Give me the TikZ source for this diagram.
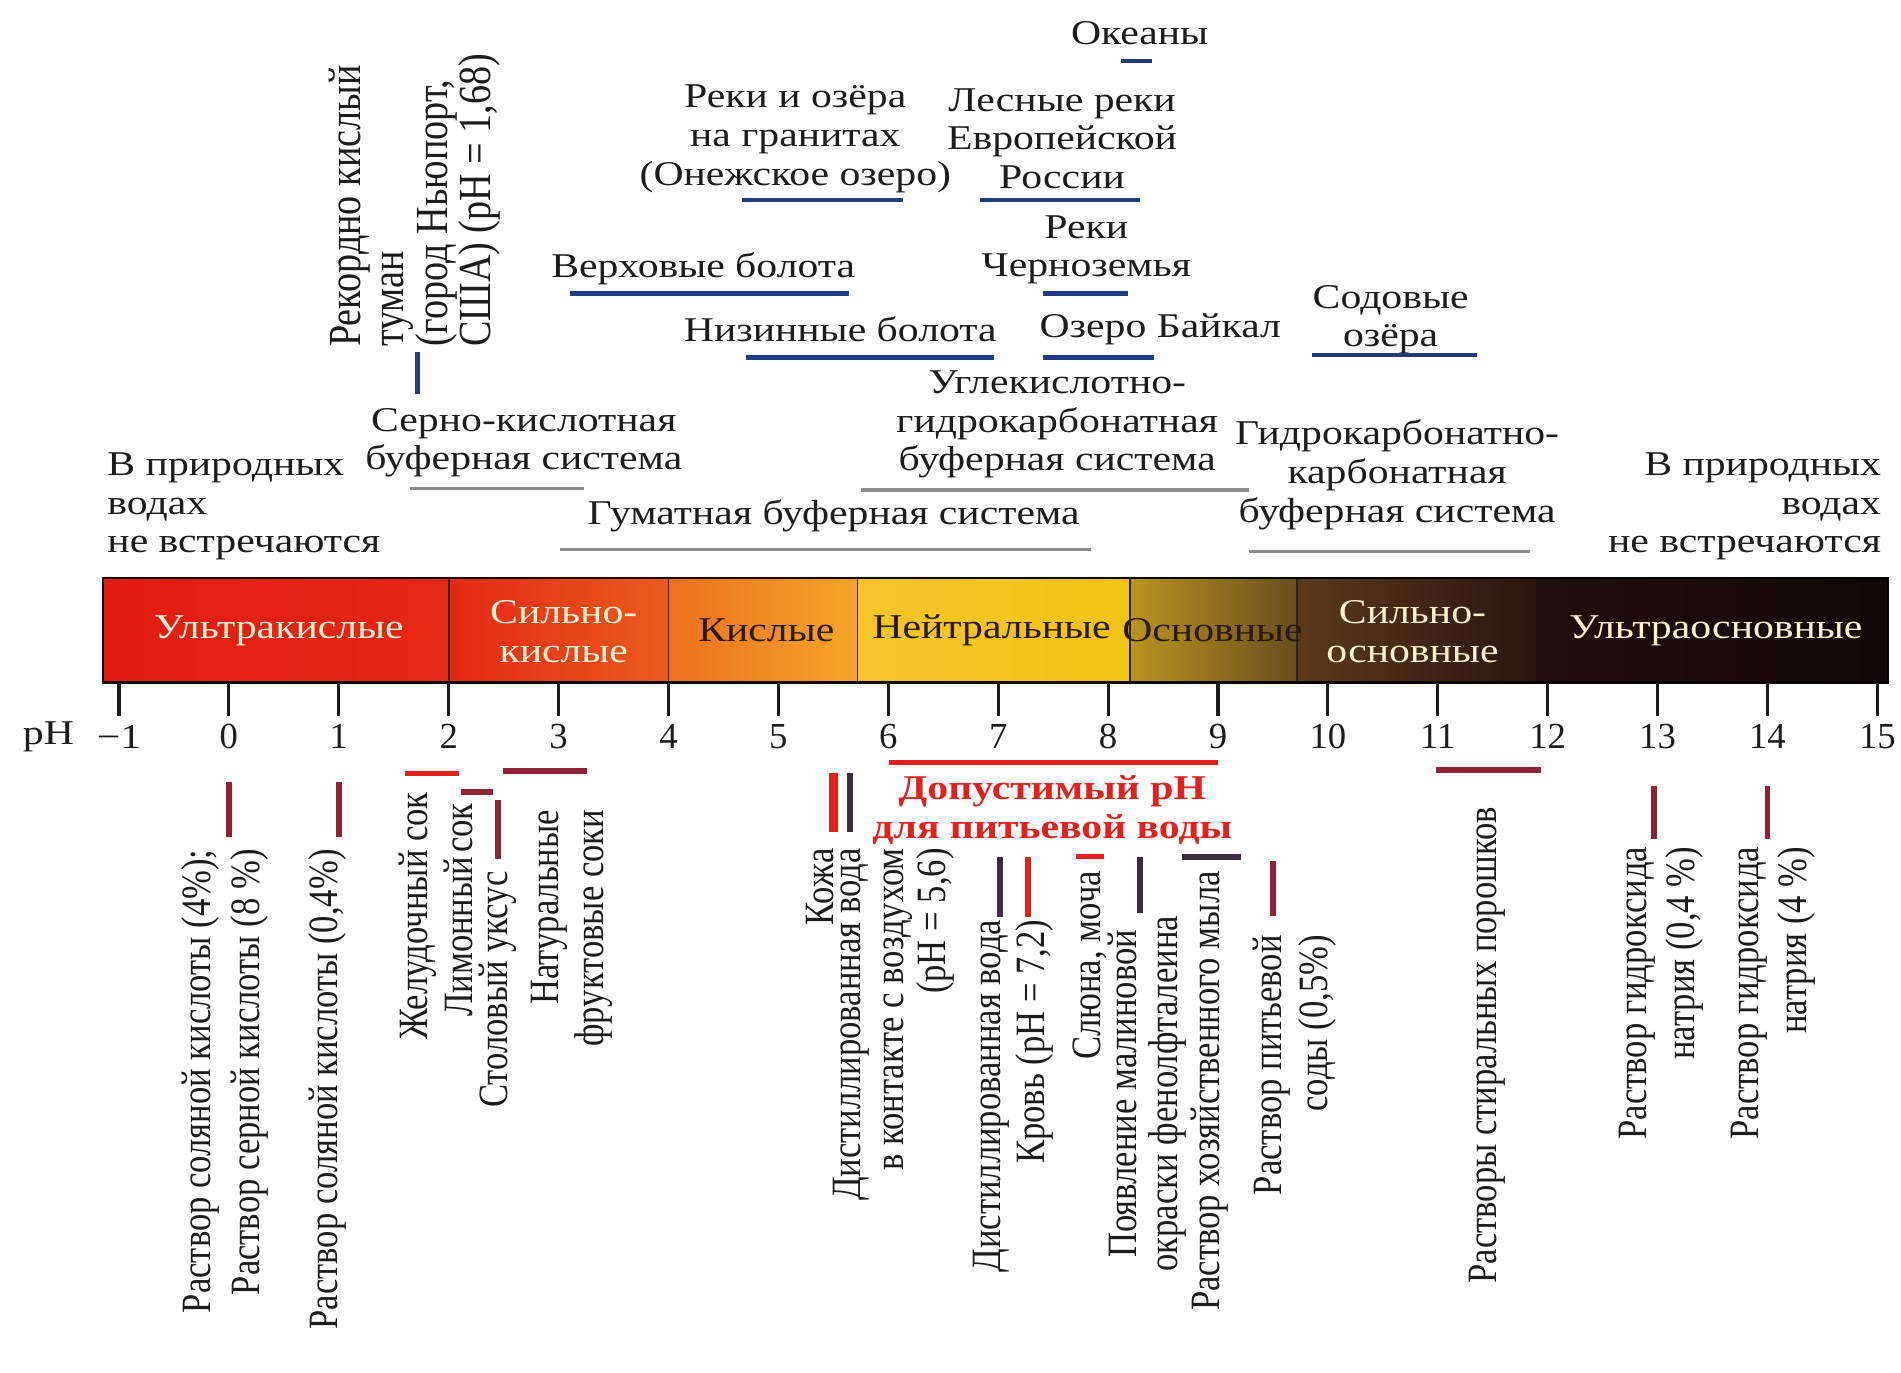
\documentclass[tikz,border=0pt]{standalone}
\usepackage{fontspec}
\setmainfont{Liberation Serif}
\newfontfamily\hfont[FakeStretch=1.2]{Liberation Serif}
\newfontfamily\vfont[FakeStretch=0.83]{Liberation Serif}

\definecolor{txt}{HTML}{1C1C1C}
\definecolor{inkblue}{HTML}{1F3C7E}
\definecolor{bufgray}{HTML}{8C8C8C}
\definecolor{markred}{HTML}{E3211C}
\definecolor{markmaroon}{HTML}{8E2236}
\definecolor{markdark}{HTML}{3B2C3E}
\definecolor{zonelight}{HTML}{FFF3D2}
\definecolor{zonedark}{HTML}{2A1A0A}

\begin{document}
\begin{tikzpicture}[
    htext/.style={font=\hfont\fontsize{9}{10}\selectfont, text=txt, inner sep=0pt, align=center},
    vtext/.style={font=\vfont\fontsize{10.8}{12.5}\selectfont, text=txt, inner sep=0pt, rotate=90, anchor=east, align=right},
    zone/.style={font=\hfont\fontsize{9}{10}\selectfont, inner sep=0pt, align=center},
    waterline/.style={draw=inkblue, line width=1.1pt},
    bufline/.style={draw=bufgray, line width=0.9pt},
    redmark/.style={draw=markred, line width=1.5pt},
    darkmark/.style={draw=markmaroon, line width=1.5pt},
    navymark/.style={draw=markdark, line width=1.5pt}]

    \useasboundingbox (-2.083,0) rectangle (15.215,12.493);

    \shade[left color={rgb,255:red,227;green,27;blue,18}, right color={rgb,255:red,229;green,40;blue,20}] (-1.145,6.282) rectangle (2,7.231);
    \shade[left color={rgb,255:red,227;green,40;blue,22}, right color={rgb,255:red,234;green,92;blue,30}] (2,6.282) rectangle (4,7.231);
    \shade[left color={rgb,255:red,236;green,112;blue,32}, right color={rgb,255:red,246;green,166;blue,40}] (4,6.282) rectangle (5.72,7.231);
    \shade[left color={rgb,255:red,248;green,196;blue,44}, middle color={rgb,255:red,255;green,240;blue,26}, right color={rgb,255:red,240;green,196;blue,20}] (5.72,6.282) rectangle (8.2,7.231);
    \shade[left color={rgb,255:red,186;green,148;blue,32}, right color={rgb,255:red,104;green,78;blue,30}] (8.2,6.282) rectangle (9.72,7.231);
    \shade[left color={rgb,255:red,90;green,58;blue,28}, right color={rgb,255:red,44;green,20;blue,14}] (9.72,6.282) rectangle (11.9,7.231);
    \shade[left color={rgb,255:red,32;green,14;blue,12}, right color={rgb,255:red,18;green,8;blue,8}] (11.9,6.282) rectangle (15.094,7.231);
    \draw[black!85, line width=0.5pt] (2,6.282) -- (2,7.231);
    \draw[black!85, line width=0.5pt] (4,6.282) -- (4,7.231);
    \draw[black!85, line width=0.5pt] (5.72,6.282) -- (5.72,7.231);
    \draw[black!85, line width=0.5pt] (8.2,6.282) -- (8.2,7.231);
    \draw[black!85, line width=0.5pt] (9.72,6.282) -- (9.72,7.231);
    \draw[black, line width=0.6pt] (-1.145,6.282) rectangle (15.094,7.231);

    \node[zone, text=zonelight] (ultraacid) at (0.455,6.757) {Ультракислые};
    \node[zone, text=zonelight] (strongacid) at (3.047,6.745) {Сильно-\\кислые};
    \node[zone, text=zonedark] (acid) at (4.89,6.757) {Кислые};
    \node[zone, text=zonedark] (neutral) at (6.94,6.757) {Нейтральные};
    \node[zone, text=zonedark] (basic) at (8.95,6.757) {Основные};
    \node[zone, text=zonelight] (strongbasic) at (10.77,6.745) {Сильно-\\основные};
    \node[zone, text=zonelight] (ultrabasic) at (13.53,6.757) {Ультраосновные};

    \foreach \p in {-1,...,15}
        \draw[txt, line width=0.8pt] (\p,6.282) -- (\p,5.98);
    \node[htext] (phlabel) at (-1.642,5.79) {pH};
    \node[htext] (phm1) at (-1,5.79) {−1};
    \foreach \p in {0,...,15}
        \node[htext, font=\fontsize{9.5}{10}\selectfont] (ph\p) at (\p,5.79) {\p};

    \node[htext] (oceans) at (8.287,12.19) {Океаны};
    \node[htext] (granite) at (5.154,11.23) {Реки и озёра\\на гранитах\\(Онежское озеро)};
    \node[htext] (forest) at (7.581,11.23) {Лесные реки\\Европейской\\России};
    \node[htext] (highbog) at (4.316,10.05) {Верховые болота};
    \node[htext] (chernozem) at (7.802,10.22) {Реки\\Черноземья};
    \node[htext] (lowbog) at (5.563,9.50) {Низинные болота};
    \node[htext] (baikal) at (8.475,9.50) {Озеро Байкал};
    \node[htext] (soda) at (10.571,9.585) {Содовые\\озёра};
    \draw[waterline] (8.12,11.941) -- (8.40,11.941);
    \draw[waterline] (4.669,10.673) -- (6.136,10.673);
    \draw[waterline] (6.831,10.673) -- (8.287,10.673);
    \draw[waterline] (3.10,9.823) -- (5.64,9.823);
    \draw[waterline] (7.405,9.823) -- (8.177,9.823);
    \draw[waterline] (4.702,9.239) -- (6.963,9.239);
    \draw[waterline] (7.405,9.239) -- (8.42,9.239);
    \draw[waterline] (9.854,9.261) -- (11.354,9.261);

    \node[vtext, anchor=north west, align=left, font=\vfont\fontsize{11.9}{11.2}\selectfont] (fog) at (0.905,9.33) {Рекордно кислый\\туман\\(город Ньюпорт,\\США) (pH = 1,68)};
    \draw[inkblue, line width=1.3pt] (1.72,9.294) -- (1.72,8.908);

    \node[htext] (sulfur) at (2.683,8.465) {Серно-кислотная\\буферная система};
    \node[htext] (carbonic) at (7.537,8.63) {Углекислотно-\\гидрокарбонатная\\буферная система};
    \node[htext] (humate) at (5.502,7.797) {Гуматная буферная система};
    \node[htext] (bicarb) at (10.63,8.172) {Гидрокарбонатно-\\карбонатная\\буферная система};
    \node[htext, anchor=west, align=left] (noneleft) at (-1.112,7.885) {В природных\\водах\\не встречаются};
    \node[htext, anchor=east, align=right] (noneright) at (15.04,7.885) {В природных\\водах\\не встречаются};
    \draw[bufline] (1.646,8.047) -- (3.235,8.047);
    \draw[bufline] (5.750,8.036) -- (9.280,8.036);
    \draw[bufline] (3.014,7.495) -- (7.846,7.495);
    \draw[bufline] (9.28,7.474) -- (11.84,7.474);

    \draw[darkmark] (0,5.378) -- (0,4.881);
    \draw[darkmark] (1,5.378) -- (1,4.881);
    \draw[redmark] (1.60,5.455) -- (2.09,5.455);
    \draw[darkmark] (2.11,5.289) -- (2.40,5.289);
    \draw[darkmark] (2.45,5.21) -- (2.45,4.68);
    \draw[darkmark] (2.49,5.477) -- (3.26,5.477);
    \draw[redmark, line width=2.4pt] (5.5,5.455) -- (5.5,4.925);
    \draw[navymark] (5.65,5.455) -- (5.65,4.925);
    \draw[redmark] (6.01,5.554) -- (9.0,5.554);
    \draw[navymark] (7.02,4.693) -- (7.02,4.153);
    \draw[redmark] (7.27,4.693) -- (7.27,4.153);
    \draw[redmark] (7.71,4.70) -- (7.96,4.70);
    \draw[navymark] (8.29,4.693) -- (8.29,4.186);
    \draw[navymark] (8.67,4.693) -- (9.21,4.693);
    \draw[darkmark] (9.50,4.66) -- (9.50,4.16);
    \draw[darkmark] (10.98,5.488) -- (11.94,5.488);
    \draw[darkmark] (12.97,5.344) -- (12.97,4.859);
    \draw[darkmark] (14.0,5.344) -- (14.0,4.859);

    \node[vtext, font=\vfont\fontsize{10.8}{12.9}\selectfont] (hcl4) at (-0.036,4.771) {Раствор соляной кислоты (4\%);\\Раствор серной кислоты (8 \%)};
    \node[vtext] (hcl04) at (0.896,4.771) {Раствор соляной кислоты (0,4\%)};
    \node[vtext] (gastric) at (1.72,5.29) {Желудочный сок};
    \node[vtext] (lemon) at (2.09,5.19) {Лимонный\hspace{1pt}сок};
    \node[vtext] (vinegar) at (2.45,4.57) {Столовый уксус};
    \node[vtext, font=\vfont\fontsize{10.8}{11.5}\selectfont] (juice) at (3.12,5.13) {Натуральные\\фруктовые соки};
    \node[vtext] (skin) at (5.38,4.78) {Кожа};
    \node[vtext, font=\vfont\fontsize{10.8}{11}\selectfont] (distair) at (6.053,4.78) {Дистиллированная вода\\в контакте с воздухом\\(pH = 5,6)};
    \node[htext, text=markred, font=\hfont\bfseries\fontsize{9}{10}\selectfont] (drinking) at (7.493,5.12) {Допустимый pH\\для питьевой воды};
    \node[vtext] (distwater) at (6.94,4.13) {Дистиллированная вода};
    \node[vtext] (blood) at (7.327,4.13) {Кровь (pH = 7,2)};
    \node[vtext] (saliva) at (7.836,4.572) {Слюна, моча};
    \node[vtext, align=center, font=\vfont\fontsize{10.8}{10.5}\selectfont] (phenol) at (8.354,4.164) {Появление малиновой\\окраски фенолфталеина};
    \node[vtext] (soap) at (8.927,4.572) {Раствор хозяйственного мыла};
    \node[vtext, font=\vfont\fontsize{10.8}{11.9}\selectfont] (bakingsoda) at (9.70,3.99) {Раствор питьевой\\соды (0,5\%)};
    \node[vtext] (detergent) at (11.45,5.157) {Растворы стиральных порошков};
    \node[vtext] (naoh04) at (13.036,4.793) {Раствор гидроксида\\натрия (0,4 \%)};
    \node[vtext] (naoh4) at (14.05,4.793) {Раствор гидроксида\\натрия (4 \%)};
\end{tikzpicture}
\end{document}
